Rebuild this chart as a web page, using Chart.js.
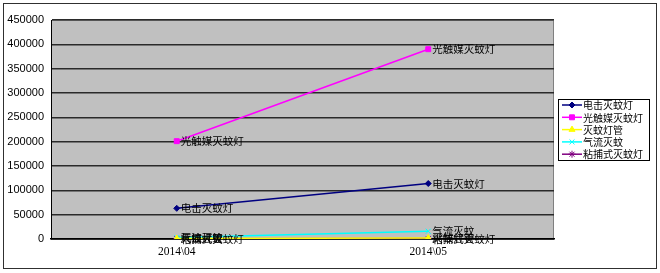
<!DOCTYPE html>
<html>
<head>
<meta charset="utf-8">
<script src="https://cdn.jsdelivr.net/npm/chart.js@4/dist/chart.umd.min.js"></script>
<style>
  html, body { margin: 0; padding: 0; background: #ffffff; }
  #wrap { width: 660px; height: 273px; position: relative; }
</style>
</head>
<body>
<div id="wrap"><canvas id="c" width="660" height="273"></canvas></div>
<script>
// Months on the category axis
const months = ['2014\\04', '2014\\05'];

// Sales volume per product type
const seriesNames = ['电击灭蚊灯', '光触媒灭蚊灯', '灭蚊灯管', '气流灭蚊', '粘捕式灭蚊灯'];
const electricShock = [63000, 114000];
const photocatalyst = [201000, 390000];
const lampTubes = [1000, 2000];
const airflow = [3000, 16000];
const stickyTrap = [500, 800];

const yTicks = [0, 50000, 100000, 150000, 200000, 250000, 300000, 350000, 400000, 450000];

const colors = ['#000080', '#ff00ff', '#ffff00', '#00ffff', '#800080'];
const markers = ['rectRot', 'rect', 'triangle', 'crossRot', 'star'];
const markerSizes = [3, 3.5, 3.5, 3.5, 3.5];
const values = [electricShock, photocatalyst, lampTubes, airflow, stickyTrap];

const CJK = '"Noto Sans CJK SC", "Noto Sans", sans-serif';

// Gray plot background, chart border, point labels and legend box
const decor = {
  id: 'decor',
  beforeDraw(chart) {
    const ctx = chart.ctx;
    const a = chart.chartArea;
    ctx.save();
    ctx.fillStyle = '#ffffff';
    ctx.fillRect(0, 0, chart.width, chart.height);
    // outer chart frame
    ctx.strokeStyle = '#303030';
    ctx.lineWidth = 1;
    ctx.strokeRect(3.5, 3.5, 653, 265);
    // plot area
    ctx.fillStyle = '#c0c0c0';
    ctx.fillRect(a.left, a.top, a.right - a.left, a.bottom - a.top);
    ctx.strokeStyle = '#808080';
    ctx.strokeRect(a.left + 0.5, a.top + 0.5, a.right - a.left - 1, a.bottom - a.top);
    ctx.restore();
  },
  afterDatasetsDraw(chart) {
    const ctx = chart.ctx;
    ctx.save();
    ctx.font = '10.5px ' + CJK;
    ctx.fillStyle = '#000000';
    ctx.textAlign = 'left';
    ctx.textBaseline = 'middle';
    chart.data.datasets.forEach((ds, i) => {
      const meta = chart.getDatasetMeta(i);
      meta.data.forEach(pt => {
        ctx.fillText(ds.label, pt.x + 4, pt.y);
      });
    });

    // legend
    const lx = 558, ly = 99, lw = 91, lh = 61;
    ctx.fillStyle = '#ffffff';
    ctx.fillRect(lx, ly, lw, lh);
    ctx.strokeStyle = '#000000';
    ctx.lineWidth = 1;
    ctx.strokeRect(lx + 0.5, ly + 0.5, lw, lh);
    ctx.font = '10px ' + CJK;
    chart.data.datasets.forEach((ds, i) => {
      const y = 105 + i * 12.3;
      ctx.strokeStyle = ds.borderColor;
      ctx.fillStyle = ds.borderColor;
      ctx.lineWidth = 1.5;
      ctx.beginPath();
      ctx.moveTo(562, y);
      ctx.lineTo(582, y);
      ctx.stroke();
      ctx.lineWidth = 1;
      Chart.helpers.drawPoint(ctx, {
        pointStyle: ds.pointStyle,
        radius: ds.pointRadius,
        rotation: 0,
        borderWidth: 1
      }, 572, y);
      ctx.fillStyle = '#000000';
      ctx.fillText(ds.label, 583, y + 0.5);
    });
    ctx.restore();
  }
};

const datasets = seriesNames.map((name, i) => ({
  label: name,
  data: values[i],
  borderColor: colors[i],
  backgroundColor: colors[i],
  pointBackgroundColor: colors[i],
  pointBorderColor: colors[i],
  pointStyle: markers[i],
  pointRadius: markerSizes[i],
  pointBorderWidth: 1,
  borderWidth: 1.5,
  tension: 0
}));

new Chart(document.getElementById('c'), {
  type: 'line',
  data: { labels: months, datasets },
  plugins: [decor],
  options: {
    responsive: false,
    animation: false,
    devicePixelRatio: 1,
    layout: { padding: { left: 0, top: 20, right: 106, bottom: 0 } },
    plugins: {
      legend: { display: false },
      tooltip: { enabled: false }
    },
    scales: {
      x: {
        type: 'category',
        offset: true,
        grid: { display: false, drawTicks: false },
        border: { display: true, color: '#000000', width: 1.5 },
        ticks: {
          color: '#000000',
          padding: 6,
          maxRotation: 0,
          font: { family: '"Liberation Serif", "DejaVu Serif", serif', size: 11.5 }
        },
        afterFit(s) { s.height = 34; }
      },
      y: {
        min: 0,
        max: 450000,
        afterBuildTicks(s) { s.ticks = yTicks.map(v => ({ value: v })); },
        grid: { color: '#2a2a2a', lineWidth: 1.5, drawTicks: false },
        border: { display: true, color: '#000000', width: 1 },
        ticks: {
          color: '#000000',
          padding: 7,
          font: { family: '"Liberation Sans", "DejaVu Sans", sans-serif', size: 11 },
          callback: v => String(v)
        },
        afterFit(s) { s.width = 51; }
      }
    }
  }
});
</script>
</body>
</html>
